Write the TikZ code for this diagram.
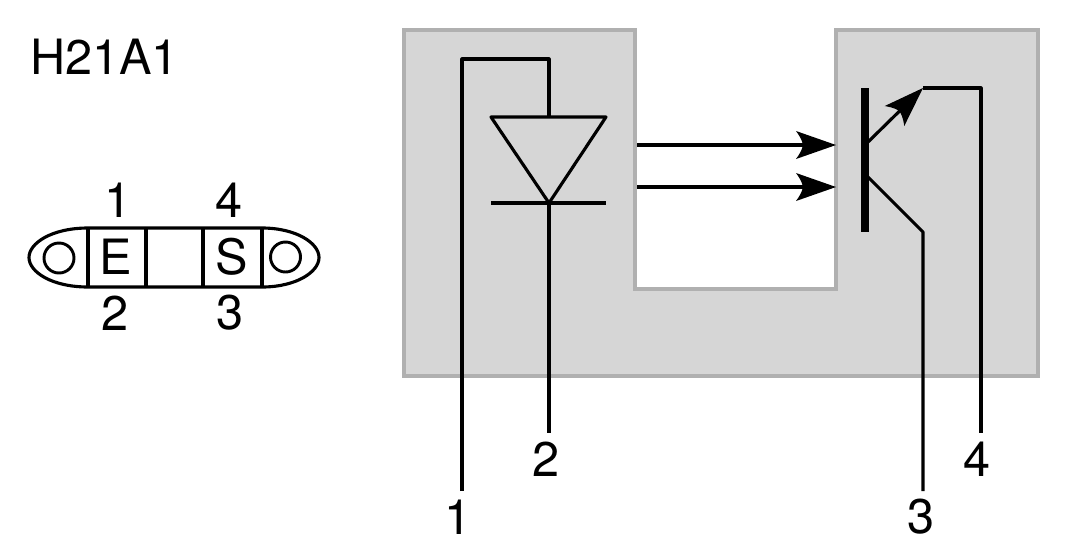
\documentclass[tikz,border=0pt]{standalone}
\usepackage{fontspec}
\setmainfont{TeX Gyre Heros}
\pgfdeclarearrow{
  name=Barb,
  setup code={
    \pgfarrowssettipend{0pt}
    \pgfarrowssetlineend{-22pt}
    \pgfarrowssetvisualbackend{-30pt}
    \pgfarrowssetbackend{-30pt}
  },
  drawing code={
    \pgfpathmoveto{\pgfpoint{0pt}{0pt}}
    \pgfpathlineto{\pgfpoint{-30pt}{10.5pt}}
    \pgfpathcurveto{\pgfpoint{-26pt}{5pt}}{\pgfpoint{-25pt}{2pt}}{\pgfpoint{-25pt}{0pt}}
    \pgfpathcurveto{\pgfpoint{-25pt}{-2pt}}{\pgfpoint{-26pt}{-5pt}}{\pgfpoint{-30pt}{-10.5pt}}
    \pgfpathclose
    \pgfusepathqfill
  }
}
\definecolor{bodyfill}{HTML}{D6D6D6}
\definecolor{bodyline}{HTML}{B0B0B0}
\tikzset{
  body/.style={draw=bodyline,fill=bodyfill,line width=2.3pt,line join=miter},
  wire/.style={draw=black,line width=2.35pt,line join=round,line cap=butt},
  thin wire/.style={draw=black,line width=2.35pt,line join=round},
  ray/.style={wire,-{Barb}},
  label/.style={inner sep=0pt,outer sep=0pt,font=\fontsize{36.5}{38}\selectfont,text=black},
  hole/.style={circle,draw=black,line width=2.2pt,minimum size=22.5pt,inner sep=0pt},
  basebar/.style={fill=black,draw=none,inner sep=0pt,minimum width=6pt,minimum height=108pt},
}
\begin{document}
\begin{tikzpicture}[x=0.75pt,y=-0.75pt]
\useasboundingbox (0,0) rectangle (1069,551);

% housing
\draw[body] (404,30) -- (635,30) -- (635,289) -- (836,289) -- (836,30) -- (1038,30) -- (1038,376) -- (404,376) -- cycle;

% diode
\coordinate (pin1) at (462,491);
\coordinate (top1) at (462,59);
\coordinate (top2) at (549,59);
\coordinate (anode) at (549,117);
\coordinate (triL) at (491,117);
\coordinate (triR) at (606,117);
\coordinate (cath) at (549,203);
\coordinate (barL) at (491,203);
\coordinate (barR) at (606,203);
\coordinate (pin2) at (549,433);
\draw[wire] (pin1) -- (top1) -- (top2) -- (anode);
\draw[wire] (triL) -- (triR) -- (cath) -- cycle;
\draw[thin wire] (barL) -- (barR);
\draw[wire] (cath) -- (pin2);

% light rays
\coordinate (ray1s) at (637,145);
\coordinate (ray1e) at (836,145);
\coordinate (ray2s) at (637,187);
\coordinate (ray2e) at (836,187);
\draw[ray] (ray1s) -- (ray1e);
\draw[ray] (ray2s) -- (ray2e);

% transistor
\node[basebar] (base) at (865,160) {};
\coordinate (eb) at (868,142);
\coordinate (ej) at (923,88);
\coordinate (ec) at (981,88);
\coordinate (pin4) at (981,433);
\coordinate (cb) at (868,177);
\coordinate (cj) at (923,232);
\coordinate (pin3) at (923,491);
\draw[ray] (eb) -- (ej);
\draw[wire] (ej) -- (ec) -- (pin4);
\draw[wire] (cb) -- (cj) -- (pin3);

% terminal numbers
\node[label] (n1) at (458,517) {1};
\node[label] (n2) at (546,459) {2};
\node[label] (n3) at (921.5,517) {3};
\node[label] (n4) at (977.5,459) {4};

% title
\node[label,anchor=west] (title) at (30,57) {H21A1};

% package outline
\coordinate (d1t) at (88,228);
\coordinate (d1b) at (88,287);
\coordinate (d2t) at (146,228);
\coordinate (d2b) at (146,287);
\coordinate (d3t) at (203,228);
\coordinate (d3b) at (203,287);
\coordinate (d4t) at (262,228);
\coordinate (d4b) at (262,287);
\draw[thin wire] (d1t) -- (d4t) .. controls (296,228) and (319,243) .. (319,257.5)
   .. controls (319,272) and (296,287) .. (d4b) -- (d1b)
   .. controls (52,287) and (29,272) .. (29,257.5)
   .. controls (29,243) and (52,228) .. (d1t) -- cycle;
\draw[thin wire] (d1t) -- (d1b);
\draw[thin wire] (d2t) -- (d2b);
\draw[thin wire] (d3t) -- (d3b);
\draw[thin wire] (d4t) -- (d4b);
\node[hole] (holeL) at (59,258) {};
\node[hole] (holeR) at (285.5,257) {};
\node[label] (E) at (116,257) {E};
\node[label] (S) at (232,257) {S};
\node[label] (p1) at (118,200) {1};
\node[label] (p4) at (229,200) {4};
\node[label] (p2) at (115,313) {2};
\node[label] (p3) at (230,313) {3};
\end{tikzpicture}
\end{document}
